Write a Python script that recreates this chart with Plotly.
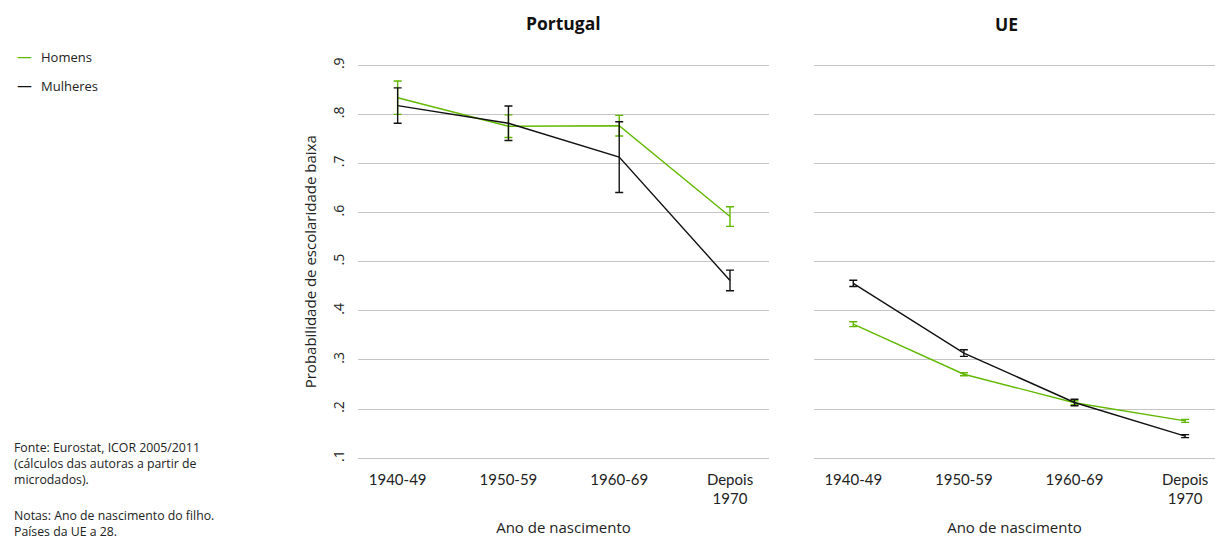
import plotly.graph_objects as go

categories = ["1940-49", "1950-59", "1960-69", "Depois<br>1970"]
series_names = ["Homens", "Mulheres"]

# Portugal
pt_homens = [0.834, 0.776, 0.777, 0.592]
pt_homens_err = [0.034, 0.023, 0.021, 0.020]
pt_mulheres = [0.818, 0.782, 0.713, 0.462]
pt_mulheres_err = [0.036, 0.035, 0.072, 0.021]

# UE
ue_homens = [0.373, 0.271, 0.213, 0.176]
ue_homens_err = [0.005, 0.003, 0.004, 0.003]
ue_mulheres = [0.456, 0.314, 0.2135, 0.145]
ue_mulheres_err = [0.0065, 0.0067, 0.0067, 0.003]

y_ticks = [0.1, 0.2, 0.3, 0.4, 0.5, 0.6, 0.7, 0.8, 0.9]
y_ticktext = [".1", ".2", ".3", ".4", ".5", ".6", ".7", ".8", ".9"]

GREEN = "#62b800"
BLACK = "#111111"
FONT = "Lato"
FONT2 = "Open Sans"
TXT = "#222222"

W, H = 1215, 539

fig = go.Figure()


def add(y, err, color, name, xa, ya):
    fig.add_trace(go.Scatter(
        x=categories, y=y, mode="lines", name=name,
        line=dict(color=color, width=1.4),
        error_y=dict(type="data", array=err, visible=True, color=color,
                     thickness=1.4, width=4),
        xaxis=xa, yaxis=ya, showlegend=False, legendgroup=name,
        hoverinfo="skip",
    ))


add(pt_homens, pt_homens_err, GREEN, series_names[0], "x", "y")
add(pt_mulheres, pt_mulheres_err, BLACK, series_names[1], "x", "y")
add(ue_homens, ue_homens_err, GREEN, series_names[0], "x2", "y2")
add(ue_mulheres, ue_mulheres_err, BLACK, series_names[1], "x2", "y2")

ydom = [1 - 460.8 / H, 1 - 58.5 / H]
yrange = [0.095, 0.905]

xcommon = dict(
    type="category", showgrid=False, zeroline=False, showline=False,
    ticks="outside", ticklen=5, tickcolor="rgba(0,0,0,0)",
    tickfont=dict(family=FONT, size=15, color=TXT),
    title=dict(text="Ano de nascimento", font=dict(family=FONT2, size=15, color=TXT), standoff=16),
)
ycommon = dict(
    range=yrange, tickvals=y_ticks, ticktext=y_ticktext,
    showgrid=True, gridcolor="#c4c4c4", gridwidth=1, zeroline=False, showline=False,
    domain=ydom,
)

fig.update_layout(
    width=W, height=H,
    margin=dict(l=0, r=0, t=0, b=0),
    paper_bgcolor="white", plot_bgcolor="white",
    font=dict(family=FONT, color=TXT),
    xaxis=dict(domain=[358 / W, 769 / W], range=[-0.358, 3.352], anchor="y", **xcommon),
    xaxis2=dict(domain=[814 / W, 1.0], range=[-0.355, 3.27], anchor="y2", **xcommon),
    yaxis=dict(anchor="x", tickangle=-90, ticks="", ticklabelstandoff=10,
               tickfont=dict(family=FONT2, size=14, color=TXT),
               title=dict(text="Probabilidade de escolaridade baixa",
                          font=dict(family=FONT2, size=15, color=TXT), standoff=8),
               **ycommon),
    yaxis2=dict(anchor="x2", showticklabels=False, **ycommon),
    showlegend=False,
)

# legend (keys drawn as coloured dashes, like the reference)
for i, (name, color) in enumerate(zip(series_names, [GREEN, BLACK])):
    ly = 1 - (53 + 29 * i) / H
    fig.add_annotation(text="—", x=15 / W, y=ly, xref="paper", yref="paper",
                       xanchor="left", yanchor="middle", showarrow=False,
                       font=dict(family="DejaVu Sans", size=15, color=color))
    fig.add_annotation(text=name, x=39 / W, y=ly, xref="paper", yref="paper",
                       xanchor="left", yanchor="middle", showarrow=False,
                       font=dict(family=FONT2, size=13, color=TXT))

fig.add_annotation(text="<b>Portugal</b>", x=(358 + 769) / 2 / W, y=1 - 18 / H,
                   xref="paper", yref="paper", showarrow=False, yanchor="middle",
                   font=dict(family=FONT2, size=17.5, color="#111111"))
fig.add_annotation(text="<b>UE</b>", x=1019.5 / W, y=1 - 19 / H,
                   xref="paper", yref="paper", showarrow=False, yanchor="middle",
                   font=dict(family=FONT2, size=17.5, color="#111111"))

fig.add_annotation(text="Fonte: Eurostat, ICOR 2005/2011<br>(cálculos das autoras a partir de<br>microdados).",
                   x=12 / W, y=1 - 437 / H, xref="paper", yref="paper",
                   xanchor="left", yanchor="top", align="left", showarrow=False,
                   font=dict(family=FONT2, size=12.3, color=TXT))
fig.add_annotation(text="Notas: Ano de nascimento do filho.<br>Países da UE a 28.",
                   x=12 / W, y=1 - 506 / H, xref="paper", yref="paper",
                   xanchor="left", yanchor="top", align="left", showarrow=False,
                   font=dict(family=FONT2, size=12.3, color=TXT))

fig.write_html("out.html", config={"displayModeBar": False},
               post_script="document.body.style.margin='0px';")
